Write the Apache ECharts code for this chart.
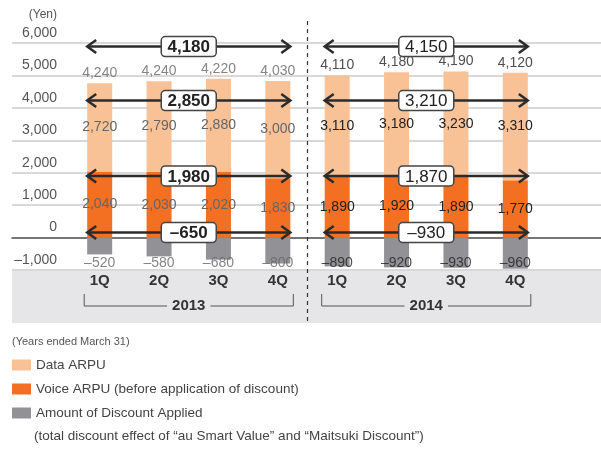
<!DOCTYPE html>
<html>
<head>
<meta charset="utf-8">
<script src="https://cdn.jsdelivr.net/npm/echarts@6/dist/echarts.min.js"></script>
<style>
  html, body { margin: 0; padding: 0; background: #fff; }
  #chart { width: 601px; height: 449px; }
</style>
</head>
<body>
<div id="chart"></div>
<script>
// ===== data =====
var categories = ['1Q', '2Q', '3Q', '4Q', '1Q', '2Q', '3Q', '4Q'];
var years = ['2013', '2014'];
var dataArpu = [2720, 2790, 2880, 3000, 3110, 3180, 3230, 3310];
var voiceArpu = [2040, 2030, 2020, 1830, 1890, 1920, 1890, 1770];
var discount = [-520, -580, -680, -800, -890, -920, -930, -960];
var totalArpu = [4240, 4240, 4220, 4030, 4110, 4180, 4190, 4120];
// yearly averages shown in the arrow boxes
var avgTotal = [4180, 4150];
var avgData = [2850, 3210];
var avgVoice = [1980, 1870];
var avgDiscount = [-650, -930];

var seriesNames = [
  'Data ARPU',
  'Voice ARPU (before application of discount)',
  'Amount of Discount Applied'
];

// ===== layout =====
var FONT = '"Liberation Sans", Arial, sans-serif';
var BAR_W = 25;
var GRID_TOP = 43, GRID_H = 227;
var Y_MIN = -1000, Y_MAX = 6000;
var ARROW_LEVELS = [5890, 4225, 1900, 155]; // y positions of the four arrows (value units)
var DISC_LABEL_Y = -790;
var BAND_COLOR = '#e6e6e8';

var C_DATA = '#f9c196', C_VOICE = '#f36f21', C_DISC = '#929296';

function fmt(v) {
  var s = String(Math.abs(v)).replace(/\B(?=(\d{3})+(?!\d))/g, ',');
  return v < 0 ? '\u2013' + s : s;
}

function labelColor(i) { return i < 4 ? '#666' : '#222'; }

function withLabelColor(arr) {
  return arr.map(function(v, i) {
    return { value: v, label: { color: labelColor(i) } };
  });
}

// arrow rows: [startIdx, endIdx, level, avg, yearIdx]
var arrowRows = [];
[avgTotal, avgData, avgVoice, avgDiscount].forEach(function(avgs, k) {
  years.forEach(function(y, yi) {
    arrowRows.push([yi * 4, yi * 4 + 3, ARROW_LEVELS[k], avgs[yi], yi]);
  });
});

var chart = echarts.init(document.getElementById('chart'), null, { renderer: 'canvas' });

var option = {
  animation: false,
  textStyle: { fontFamily: FONT },
  legend: {
    data: seriesNames,
    orient: 'vertical',
    left: 12,
    top: 358,
    padding: 0,
    itemWidth: 19,
    itemHeight: 11,
    itemGap: 10,
    icon: 'rect',
    textStyle: { fontSize: 13.5, color: '#444', lineHeight: 14, fontFamily: FONT },
    selectedMode: false
  },
  grid: [
    // full-width grid for gridlines and y labels
    { left: 12, right: 0, top: GRID_TOP, height: GRID_H },
    // bar grid
    { left: 70, right: 56, top: GRID_TOP, height: GRID_H },
    // grey band under the plot
    { left: 12, right: 0, top: GRID_TOP + GRID_H, height: 53, show: true,
      backgroundColor: BAND_COLOR, borderWidth: 0 }
  ],
  xAxis: [
    { gridIndex: 0, type: 'value', min: 0, max: 1,
      axisLine: { show: true, onZero: true, lineStyle: { color: '#555', width: 1.5 } },
      axisTick: { show: false }, axisLabel: { show: false }, splitLine: { show: false } },
    { gridIndex: 1, type: 'category', data: categories,
      axisLine: { show: false, onZero: false }, axisTick: { show: false },
      axisLabel: { margin: 3, fontSize: 15, fontWeight: 'bold', color: '#333', fontFamily: FONT } },
    { gridIndex: 2, type: 'value', show: false }
  ],
  yAxis: [
    { gridIndex: 0, type: 'value', min: Y_MIN, max: Y_MAX, interval: 1000,
      axisLine: { show: false }, axisTick: { show: false },
      axisLabel: { inside: true, align: 'right', verticalAlign: 'bottom', margin: 45,
        padding: [0, 0, 3, 0], fontSize: 14, color: '#555', fontFamily: FONT,
        formatter: function(v) { return fmt(v); } },
      splitLine: { show: true, lineStyle: { color: '#d8d8d8', width: 2 } } },
    { gridIndex: 1, type: 'value', min: Y_MIN, max: Y_MAX, show: false },
    { gridIndex: 2, type: 'value', show: false }
  ],
  series: [
    {
      name: seriesNames[1], type: 'bar', xAxisIndex: 1, yAxisIndex: 1, stack: 'arpu',
      barWidth: BAR_W, itemStyle: { color: C_VOICE },
      label: { show: true, position: 'inside', fontSize: 14, fontFamily: FONT,
        formatter: function(p) { return fmt(p.value); } },
      data: withLabelColor(voiceArpu)
    },
    {
      name: seriesNames[0], type: 'bar', xAxisIndex: 1, yAxisIndex: 1, stack: 'arpu',
      barWidth: BAR_W, itemStyle: { color: C_DATA },
      label: { show: true, position: 'inside', fontSize: 14, fontFamily: FONT,
        formatter: function(p) { return fmt(p.value); } },
      data: withLabelColor(dataArpu)
    },
    {
      name: seriesNames[2], type: 'bar', xAxisIndex: 1, yAxisIndex: 1, stack: 'arpu',
      barWidth: BAR_W, itemStyle: { color: C_DISC },
      data: discount
    },
    {
      // net total labels above each bar
      type: 'scatter', xAxisIndex: 1, yAxisIndex: 1, symbolSize: 0, z: 4,
      label: { show: true, position: 'top', distance: 3, fontSize: 14, fontFamily: FONT,
        formatter: function(p) { return fmt(totalArpu[p.dataIndex]); } },
      data: categories.map(function(c, i) {
        return { value: [i, voiceArpu[i] + dataArpu[i]], label: { color: labelColor(i) } };
      })
    },
    {
      // discount labels, on one line under the grey bars
      type: 'scatter', xAxisIndex: 1, yAxisIndex: 1, symbolSize: 0, z: 4,
      label: { show: true, position: 'inside', fontSize: 14, fontFamily: FONT,
        formatter: function(p) { return fmt(discount[p.dataIndex]); } },
      data: categories.map(function(c, i) {
        return { value: [i, DISC_LABEL_Y], label: { color: labelColor(i) } };
      })
    },
    {
      // average arrows
      type: 'custom', xAxisIndex: 1, yAxisIndex: 1, z: 6, clip: false,
      encode: { x: [0, 1], y: 2 },
      data: arrowRows,
      renderItem: function(params, api) {
        var a = api.coord([api.value(0), api.value(2)]);
        var b = api.coord([api.value(1), api.value(2)]);
        var x0 = a[0] - BAR_W / 2, x1 = b[0] + BAR_W / 2, y = a[1];
        var mid = (x0 + x1) / 2;
        var stroke = '#2b2b2b';
        var bold = api.value(4) === 0;
        return {
          type: 'group',
          children: [
            { type: 'line', shape: { x1: x0 + 1, y1: y, x2: x1 - 1, y2: y },
              style: { stroke: stroke, lineWidth: 2.5 } },
            { type: 'polyline', shape: { points: [[x0 + 9, y - 6.5], [x0, y], [x0 + 9, y + 6.5]] },
              style: { stroke: stroke, lineWidth: 2.5, fill: 'none' } },
            { type: 'polyline', shape: { points: [[x1 - 9, y - 6.5], [x1, y], [x1 - 9, y + 6.5]] },
              style: { stroke: stroke, lineWidth: 2.5, fill: 'none' } },
            { type: 'rect', shape: { x: mid - 27.5, y: y - 10, width: 55, height: 20, r: 4 },
              style: { fill: '#fff', stroke: '#444', lineWidth: 1.5 } },
            { type: 'text', style: { text: fmt(api.value(3)), x: mid, y: y + 1,
              align: 'center', verticalAlign: 'middle', fill: '#222',
              font: (bold ? 'bold ' : '') + '17px ' + FONT } }
          ]
        };
      }
    }
  ]
};

chart.setOption(option);

// decorations positioned from the category axis
function catX(i) { return chart.convertToPixel({ xAxisIndex: 1 }, i); }

var graphics = [];
var sepX = (catX(3) + catX(4)) / 2;
graphics.push({
  type: 'line', z: 10,
  shape: { x1: sepX, y1: 21, x2: sepX, y2: 323 },
  style: { stroke: '#333', lineWidth: 1.2, lineDash: [4, 4] }
});
years.forEach(function(yr, yi) {
  var xs = catX(yi * 4) - BAR_W / 2 - 3;
  var xe = catX(yi * 4 + 3) + BAR_W / 2 + 3;
  graphics.push({
    type: 'polyline', z: 10,
    shape: { points: [[xs, 294], [xs, 306], [xe, 306], [xe, 294]] },
    style: { stroke: '#555', lineWidth: 1, fill: 'none' }
  });
  graphics.push({
    type: 'text', z: 11,
    style: { text: yr, x: (xs + xe) / 2, y: 306, align: 'center', verticalAlign: 'middle',
      fill: '#333', font: 'bold 15px ' + FONT, backgroundColor: BAND_COLOR, padding: [0, 5] }
  });
});
graphics.push({
  type: 'text', style: { text: '(Yen)', x: 57, y: 15, align: 'right', verticalAlign: 'middle',
    fill: '#555', font: '12px ' + FONT }
});
graphics.push({
  type: 'text', style: { text: '(Years ended March 31)', x: 12, y: 342, align: 'left',
    verticalAlign: 'middle', fill: '#555', font: '11px ' + FONT }
});
graphics.push({
  type: 'text', style: {
    text: '(total discount effect of \u201cau Smart Value\u201d and \u201cMaitsuki Discount\u201d)',
    x: 34, y: 436, align: 'left', verticalAlign: 'middle', fill: '#444', font: '13.5px ' + FONT }
});

chart.setOption({ graphic: { elements: graphics } });
</script>
</body>
</html>
